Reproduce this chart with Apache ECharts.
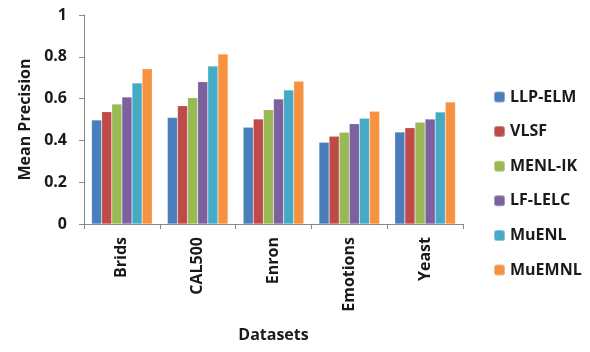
<!DOCTYPE html>
<html><head><meta charset="utf-8">
<script src="https://cdn.jsdelivr.net/npm/echarts@6/dist/echarts.min.js"></script>
<style>html,body{margin:0;padding:0;background:#fff}#c{width:590px;height:352px}</style>
</head><body><div id="c"></div>
<script>
const categories = ['Brids', 'CAL500', 'Enron', 'Emotions', 'Yeast'];
const seriesNames = ['LLP-ELM', 'VLSF', 'MENL-IK', 'LF-LELC', 'MuENL', 'MuEMNL'];
const LLP_ELM = [0.498, 0.510, 0.463, 0.391, 0.440];
const VLSF    = [0.537, 0.566, 0.502, 0.420, 0.461];
const MENL_IK = [0.574, 0.604, 0.547, 0.439, 0.487];
const LF_LELC = [0.608, 0.681, 0.598, 0.480, 0.502];
const MuENL   = [0.675, 0.756, 0.641, 0.506, 0.536];
const MuEMNL  = [0.743, 0.813, 0.683, 0.539, 0.584];
const yTicks = [0, 0.2, 0.4, 0.6, 0.8, 1];
const colors = ['#4A7EBB', '#BE4B48', '#98B954', '#7D60A0', '#46AAC5', '#F69240'];
const values = [LLP_ELM, VLSF, MENL_IK, LF_LELC, MuENL, MuEMNL];
const FONT = 'Open Sans';
const TXT = {fontFamily: FONT, fontWeight: 'bold', fontSize: 16, color: '#1a1a1a'};
const chart = echarts.init(document.getElementById('c'));
chart.setOption({
  animation: false,
  color: colors,
  grid: {left: 84, top: 15, right: 127, bottom: 128},
  legend: {
    orient: 'vertical', left: 488, top: 84,
    itemWidth: 11, itemHeight: 11, itemGap: 18.6, align: 'left',
    textStyle: Object.assign({}, TXT, {padding: [0, 0, 0, 0]}),
    data: seriesNames
  },
  xAxis: {
    type: 'category', data: categories,
    name: 'Datasets', nameLocation: 'middle', nameGap: 103,
    nameTextStyle: TXT,
    axisLine: {lineStyle: {color: '#888'}},
    axisTick: {show: true, length: 5, lineStyle: {color: '#888'}},
    axisLabel: Object.assign({rotate: 90, margin: 13}, TXT)
  },
  yAxis: {
    type: 'value', min: 0, max: 1, interval: 0.2,
    name: 'Mean Precision', nameLocation: 'middle', nameGap: 48,
    nameTextStyle: TXT,
    axisLine: {show: true, lineStyle: {color: '#888'}},
    axisTick: {show: true, length: 5, lineStyle: {color: '#888'}},
    splitLine: {show: false},
    axisLabel: Object.assign({margin: 17,
      formatter: v => (yTicks.indexOf(v) >= 0 ? String(v) : '')}, TXT)
  },
  series: seriesNames.map((n, i) => ({
    name: n, type: 'bar', data: values[i],
    barGap: '0%', barCategoryGap: '20%',
    itemStyle: {color: colors[i], borderColor: 'rgba(255,255,255,0.35)', borderWidth: 0.5}
  }))
});
</script></body></html>
